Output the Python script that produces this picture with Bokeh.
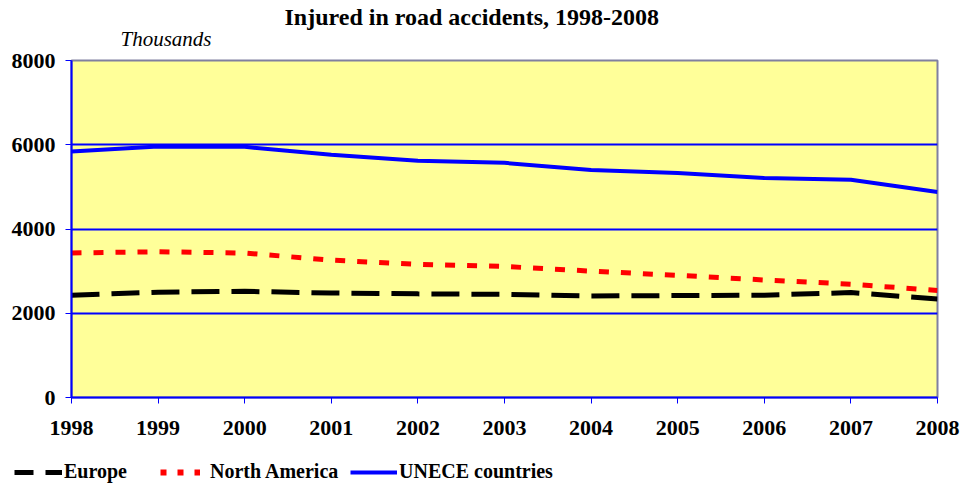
from bokeh.plotting import figure
from bokeh.models import Legend, LegendItem, FixedTicker, Range1d, Title
from bokeh.embed import file_html
from bokeh.resources import INLINE

years = [1998, 1999, 2000, 2001, 2002, 2003, 2004, 2005, 2006, 2007, 2008]
europe = [2430, 2500, 2520, 2480, 2460, 2450, 2410, 2420, 2430, 2490, 2340]
north_america = [3430, 3460, 3430, 3260, 3160, 3110, 3000, 2900, 2790, 2690, 2540]
unece = [5840, 5960, 5950, 5760, 5620, 5570, 5400, 5330, 5210, 5170, 4880]
y_ticks = [0, 2000, 4000, 6000, 8000]
title_text = "Injured in road accidents, 1998-2008"
unit_text = "Thousands"
series_names = ["Europe", "North America", "UNECE countries"]

SERIF = "Liberation Serif"

p = figure(width=960, height=445, output_backend="svg", toolbar_location=None,
           x_range=Range1d(1998, 2008), y_range=Range1d(0, 8000),
           min_border_left=71, min_border_right=23, min_border_top=60, min_border_bottom=48)

p.background_fill_color = "#FFFF99"
p.border_fill_color = "white"
p.outline_line_color = "#8080A0"
p.outline_line_width = 2

p.xgrid.visible = False
p.ygrid.grid_line_color = "#0000FF"
p.ygrid.grid_line_width = 2
p.ygrid.ticker = FixedTicker(ticks=y_ticks)

for ax in (p.xaxis, p.yaxis):
    ax.axis_line_color = "#0000FF"
    ax.axis_line_width = 2
    ax.major_tick_line_color = "#0000FF"
    ax.major_tick_line_width = 1
    ax.major_tick_out = 6
    ax.major_tick_in = 0
    ax.minor_tick_line_color = None
    ax.major_label_text_font = SERIF
    ax.major_label_text_font_style = "bold"
    ax.major_label_text_font_size = "22px"
    ax.major_label_text_color = "black"

p.xaxis.ticker = FixedTicker(ticks=years)
p.yaxis.ticker = FixedTicker(ticks=y_ticks)
p.xaxis.major_label_standoff = 17
p.yaxis.major_label_standoff = 10

p.line(years, europe, line_color="black", line_width=5, line_dash="28 12")
p.line(years, north_america, line_color="#FF0000", line_width=5, line_dash="10 12")
p.line(years, unece, line_color="#0000FF", line_width=4)

p.title.text = title_text
p.title.align = "left"
p.title.offset = 213
p.title.standoff = -28
p.title.text_font = SERIF
p.title.text_font_style = "bold"
p.title.text_font_size = "24px"
p.title.text_color = "black"

p.add_layout(Title(text=unit_text, align="left", offset=49, standoff=19,
                   text_font=SERIF, text_font_style="italic", text_font_size="21px",
                   text_color="black"), "above")

# legend strip (separate root, so its frame spans the full width)
lf = figure(width=960, height=38, output_backend="svg", toolbar_location=None,
            x_range=Range1d(0, 1), y_range=Range1d(0, 1),
            x_axis_type=None, y_axis_type=None,
            min_border_left=0, min_border_right=0, min_border_top=0, min_border_bottom=0)
lf.outline_line_color = None
lf.background_fill_color = "white"
lf.border_fill_color = "white"
lf.grid.visible = False

# same series drawn in the strip (outside its visible range) so the legend shows their styles
l_eu = lf.line(years, europe, line_color="black", line_width=5, line_dash="19 12")
l_na = lf.line(years, north_america, line_color="#FF0000", line_width=6, line_dash="6 11")
l_un = lf.line(years, unece, line_color="#0000FF", line_width=4)

def add_item(label, rend, x, gw, standoff):
    lg = Legend(items=[LegendItem(label=label, renderers=[rend])], location=(x, 0),
                orientation="horizontal", glyph_width=gw, glyph_height=20,
                label_height=20, label_standoff=standoff, padding=0, margin=0,
                border_line_color=None, background_fill_alpha=0,
                label_text_font=SERIF, label_text_font_style="bold",
                label_text_font_size="20px", label_text_color="black")
    lf.add_layout(lg, "center")

add_item(series_names[0], l_eu, 14, 48, 2)
add_item(series_names[1], l_na, 160, 40, 10)
add_item(series_names[2], l_un, 350, 47, 2)

open("out.html", "w").write(file_html([p, lf], INLINE))
